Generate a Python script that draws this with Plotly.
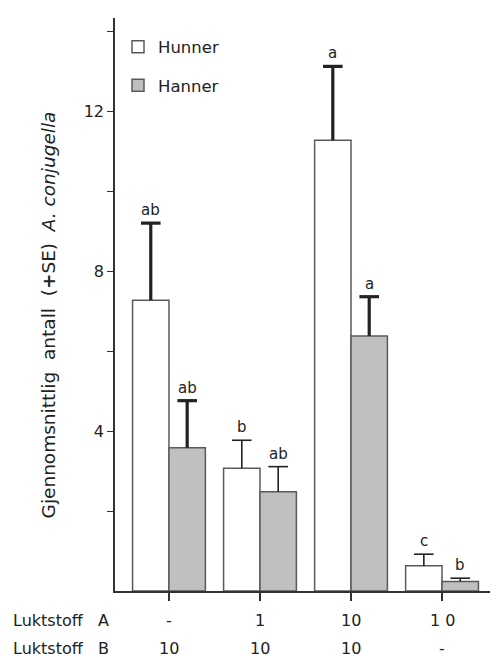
import plotly.graph_objects as go

# ---- data ----
groups = [0, 1, 2, 3]
hunner = [7.27, 3.07, 11.27, 0.63]
hunner_se = [1.93, 0.70, 1.85, 0.29]
hanner = [3.58, 2.48, 6.38, 0.24]
hanner_se = [1.18, 0.63, 0.98, 0.08]
hunner_letters = ["ab", "b", "a", "c"]
hanner_letters = ["ab", "ab", "a", "b"]
luktstoff_a = ["-", "1", "10", "1 0"]
luktstoff_b = ["10", "10", "10", "-"]
thick_err = [True, False, True, False]
y_major = [4, 8, 12]
y_minor = [2, 6, 10, 14]

FONT = "DejaVu Sans"
TXT = "#222222"
ERR = "#222222"
BW = 0.4

fig = go.Figure()


def add_series(vals, ses, name, fill, offset):
    for thick in (True, False):
        idx = [i for i in range(len(groups)) if thick_err[i] == thick]
        lw = 3.2 if thick else 1.6
        fig.add_trace(go.Bar(
            x=[groups[i] for i in idx],
            y=[vals[i] for i in idx],
            width=BW, offset=offset,
            name=name, legendgroup=name,
            showlegend=thick,
            marker=dict(color=fill, line=dict(color="#5a5a5a", width=1.5)),
            error_y=dict(type="data", symmetric=False,
                         array=[ses[i] for i in idx],
                         arrayminus=[0] * len(idx),
                         color=ERR, thickness=lw, width=0),
        ))
        # caps at the top of the error bars
        fig.add_trace(go.Scatter(
            x=[groups[i] + offset + BW / 2 for i in idx],
            y=[vals[i] + ses[i] for i in idx],
            mode="markers", showlegend=False, hoverinfo="skip",
            marker=dict(symbol="line-ew", size=14,
                        line=dict(color=ERR, width=lw)),
        ))


add_series(hunner, hunner_se, "Hunner", "white", -BW)
add_series(hanner, hanner_se, "Hanner", "#c0c0c0", 0.0)

ann = []
for i, g in enumerate(groups):
    ann.append(dict(x=g - BW / 2, y=hunner[i] + hunner_se[i], text=hunner_letters[i],
                    xref="x", yref="y", showarrow=False, yanchor="bottom", yshift=2,
                    font=dict(family=FONT, size=15, color=TXT)))
    ann.append(dict(x=g + BW / 2, y=hanner[i] + hanner_se[i], text=hanner_letters[i],
                    xref="x", yref="y", showarrow=False, yanchor="bottom", yshift=2,
                    font=dict(family=FONT, size=15, color=TXT)))
    ann.append(dict(x=g, y=-0.052, text=luktstoff_a[i], xref="x", yref="paper",
                    showarrow=False, yanchor="middle",
                    font=dict(family=FONT, size=16, color=TXT)))
    ann.append(dict(x=g, y=-0.101, text=luktstoff_b[i], xref="x", yref="paper",
                    showarrow=False, yanchor="middle",
                    font=dict(family=FONT, size=16, color=TXT)))

ann.append(dict(x=-0.278, y=-0.052, text="Luktstoff   A", xref="paper", yref="paper",
                showarrow=False, xanchor="left", yanchor="middle",
                font=dict(family=FONT, size=16, color=TXT)))
ann.append(dict(x=-0.278, y=-0.101, text="Luktstoff   B", xref="paper", yref="paper",
                showarrow=False, xanchor="left", yanchor="middle",
                font=dict(family=FONT, size=16, color=TXT)))
ann.append(dict(x=-0.177, y=0.482, xref="paper", yref="paper", showarrow=False,
                textangle=-90, xanchor="center", yanchor="middle",
                text="Gjennomsnittlig  antall  (<b>+</b>SE)  <i>A. conjugella</i>",
                font=dict(family=FONT, size=18.5, color=TXT)))

fig.update_layout(
    width=496, height=657,
    margin=dict(l=115, r=6, t=18, b=66),
    paper_bgcolor="white", plot_bgcolor="white",
    barmode="overlay",
    showlegend=True,
    legend=dict(x=0.008, y=0.98, xanchor="left", yanchor="top",
                traceorder="grouped", tracegroupgap=14,
                font=dict(family=FONT, size=16.5, color=TXT),
                bgcolor="rgba(0,0,0,0)"),
    annotations=ann,
    xaxis=dict(range=[-0.593, 3.527], showline=True, linecolor="#333333", linewidth=1.5,
               tickvals=groups, ticks="outside", ticklen=8, tickwidth=2, tickcolor="#333333",
               showticklabels=False, showgrid=False, zeroline=False, fixedrange=True),
    yaxis=dict(range=[0, 14.33], showline=True, linecolor="#333333", linewidth=1.5,
               tickvals=y_major, ticktext=[str(v) for v in y_major],
               ticks="outside", ticklen=6, tickwidth=1, tickcolor="#333333",
               minor=dict(tickvals=y_minor, ticks="outside", ticklen=6, tickwidth=1,
                          tickcolor="#333333", showgrid=False),
               tickfont=dict(family=FONT, size=16, color=TXT),
               showgrid=False, zeroline=False, fixedrange=True),
)

fig.write_html("out.html", config={"displayModeBar": False},
               post_script="document.body.style.margin='0';")
